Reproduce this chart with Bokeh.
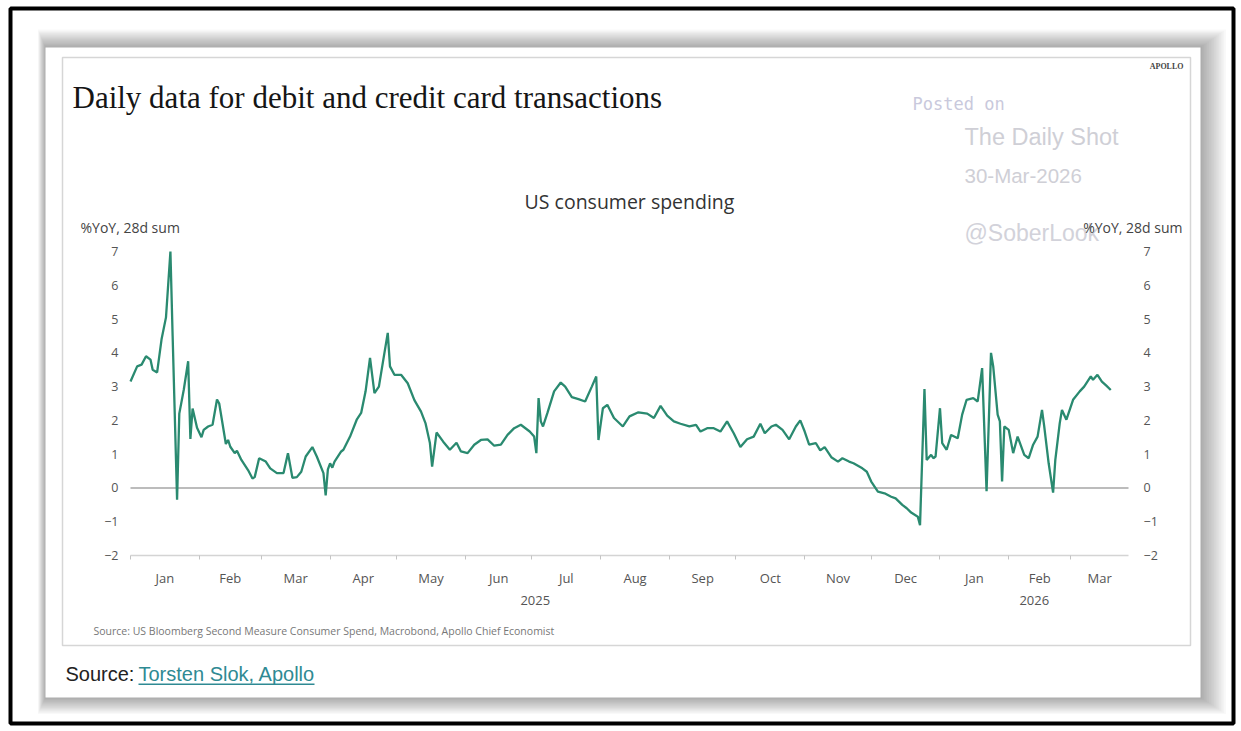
import pandas as pd
from bokeh.plotting import figure
from bokeh.models import (LinearAxis, DatetimeAxis, FixedTicker, DatetimeTickFormatter,
                          Label, BoxAnnotation, Range1d)
from bokeh.embed import file_html
from bokeh.resources import INLINE

# ---------------- data ----------------
START = "2025-01-01"
DAY_OFFSET = [0, 3, 5, 7, 9, 10, 12, 14, 16, 18, 19, 21, 22, 24, 26, 27, 28, 30, 32, 33,
              35, 37, 39, 40, 41, 43, 44, 45, 47, 48, 50, 53, 55, 56, 58, 61, 63, 66, 69, 71,
              73, 75, 77, 79, 82, 84, 87, 88, 89, 90, 91, 92, 95, 96, 99, 102, 104, 106, 108, 110,
              112, 114, 116, 117, 119, 122, 125, 128, 131, 133, 135, 136, 138, 141, 144, 147, 149, 152, 155, 158,
              161, 164, 167, 170, 173, 176, 180, 182, 183, 184, 185, 186, 188, 191, 194, 196, 199, 202, 205, 208,
              210, 211, 213, 215, 218, 222, 225, 229, 233, 236, 239, 242, 245, 248, 252, 255, 257, 260, 263, 266,
              269, 272, 275, 278, 281, 284, 286, 289, 291, 294, 297, 300, 302, 304, 306, 309, 311, 313, 316, 319,
              321, 324, 326, 330, 332, 334, 337, 340, 343, 345, 348, 350, 352, 355, 356, 358, 359, 361, 362, 363,
              365, 366, 368, 370, 373, 375, 377, 380, 382, 384, 386, 388, 389, 391, 392, 393, 394, 396, 398, 400,
              403, 405, 407, 409, 411, 412, 414, 416, 417, 419, 420, 422, 425, 428, 430, 433, 434, 436, 438, 440,
              442]
YOY = [3.15, 3.6, 3.65, 3.9, 3.8, 3.5, 3.42, 4.4, 5.05, 7.0, 4.5, -0.35, 2.2, 2.9, 3.75, 1.45, 2.35, 1.78, 1.5, 1.72,
       1.82, 1.87, 2.62, 2.5, 2.1, 1.3, 1.42, 1.22, 1.03, 1.1, 0.83, 0.53, 0.28, 0.32, 0.88, 0.78, 0.58, 0.44, 0.44, 1.03,
       0.3, 0.32, 0.48, 0.93, 1.21, 0.93, 0.44, -0.22, 0.55, 0.73, 0.6, 0.78, 1.08, 1.13, 1.52, 2.02, 2.22, 2.86, 3.85, 2.81,
       3.0, 3.8, 4.59, 3.6, 3.35, 3.35, 3.1, 2.6, 2.26, 1.92, 1.33, 0.63, 1.64, 1.37, 1.13, 1.34, 1.08, 1.03, 1.28, 1.42,
       1.44, 1.25, 1.28, 1.57, 1.77, 1.87, 1.67, 1.52, 1.03, 2.66, 1.97, 1.82, 2.22, 2.86, 3.12, 3.0, 2.69, 2.63, 2.56, 3.0,
       3.3, 1.42, 2.36, 2.46, 2.07, 1.82, 2.12, 2.24, 2.2, 2.07, 2.43, 2.14, 1.97, 1.9, 1.82, 1.87, 1.67, 1.77, 1.77, 1.67,
       1.97, 1.62, 1.21, 1.44, 1.52, 1.9, 1.62, 1.82, 1.87, 1.72, 1.44, 1.82, 2.0, 1.67, 1.28, 1.33, 1.11, 1.21, 0.91, 0.78,
       0.88, 0.78, 0.73, 0.58, 0.48, 0.19, -0.11, -0.16, -0.26, -0.31, -0.5, -0.6, -0.73, -0.85, -1.1, 2.93, 0.83, 0.98, 0.88, 0.93,
       2.36, 1.33, 1.13, 1.57, 1.47, 2.17, 2.61, 2.66, 2.56, 3.55, -0.1, 4.0, 3.6, 2.17, 1.97, 0.19, 1.82, 1.72, 1.03, 1.52,
       0.98, 0.88, 1.28, 1.52, 2.31, 1.82, 0.73, -0.14, 0.83, 1.92, 2.31, 2.02, 2.61, 2.86, 3.0, 3.3, 3.2, 3.35, 3.15, 3.03,
       2.9]
X_END = "2026-03-27"
MONTH_LABELS = ["Jan", "Feb", "Mar", "Apr", "May", "Jun", "Jul", "Aug", "Sep", "Oct", "Nov", "Dec",
                "Jan", "Feb", "Mar"]
YEAR_LABELS = ["2025", "2026"]
Y_TICKS = [-2, -1, 0, 1, 2, 3, 4, 5, 6, 7]
Y_MIN, Y_MAX = -2, 7

TITLE = "Daily data for debit and credit card transactions"
SUBTITLE = "US consumer spending"
UNIT = "%YoY, 28d sum"
SRC_SMALL = "Source: US Bloomberg Second Measure Consumer Spend, Macrobond, Apollo Chief Economist"

# ---------------- layout ----------------
W, H = 1241, 731
PL, PR = 130, 1128          # pixel columns of the chart's first / last day
PY_TOP, PY_BOT = 251, 555   # pixel rows of Y_MAX / Y_MIN

t_a = pd.Timestamp(START).value / 1e6
t_b = pd.Timestamp(X_END).value / 1e6
ms_per_px = (t_b - t_a) / (PR - PL)
u_per_px = (Y_MAX - Y_MIN) / (PY_BOT - PY_TOP)

dates = pd.Timestamp(START) + pd.to_timedelta(DAY_OFFSET, unit="D")

# page canvas in pixel coordinates (y downwards); chart data on extra ranges
p = figure(width=W, height=H, x_axis_type=None, y_axis_type=None,
           x_range=Range1d(0, W), y_range=Range1d(H, 0),
           output_backend="svg", toolbar_location=None, min_border=0)
p.extra_x_ranges = {"t": Range1d(t_a - PL * ms_per_px, t_a + (W - PL) * ms_per_px)}
p.extra_y_ranges = {"v": Range1d(Y_MIN - (H - PY_BOT) * u_per_px, Y_MAX + PY_TOP * u_per_px)}
p.outline_line_color = None
p.grid.visible = False
p.background_fill_color = "white"
p.border_fill_color = "white"


def box(x1, y1, x2, y2, fill=None, alpha=1.0, line=None, lw=1, level="underlay"):
    p.add_layout(BoxAnnotation(left=x1, right=x2, top=y1, bottom=y2,
                               fill_color=fill if fill else "white", fill_alpha=alpha if fill else 0,
                               line_color=line if line else "white", line_width=lw,
                               line_alpha=1 if line else 0, level=level))


def lab(text, x, y, size, color, font="Open Sans", align="left", style="normal"):
    p.add_layout(Label(x=x, y=y, text=text, text_font=font, text_font_size=f"{size}px",
                       text_color=color, text_align=align, text_baseline="middle",
                       text_font_style=style))


# shadow + card
for i in range(15, 0, -1):
    box(45 - i * 0.5, 47 - i * 1.2, 1200 + i * 1.7, 697 + i * 1.1, fill="#000000", alpha=0.022)
box(45, 47, 1200, 697, fill="white")
box(62, 57, 1190, 645, line="#d6d6d6", lw=1.5)

# zero line across the chart span
p.segment(x0=[t_a], x1=[t_b], y0=[0], y1=[0], line_color="#bcbcbc", line_width=2,
          x_range_name="t", y_range_name="v")

# series
p.line(dates, YOY, line_color="#2a8a70", line_width=2.3, x_range_name="t", y_range_name="v")

# axes
ax_font = "Open Sans"
for side, loc, sto in (("left", t_a, 6), ("right", t_b, 9)):
    ax = LinearAxis(ticker=FixedTicker(ticks=Y_TICKS), x_range_name="t", y_range_name="v",
                    fixed_location=loc, bounds=(Y_MIN, Y_MAX))
    ax.axis_line_color = None
    ax.major_tick_line_color = None
    ax.minor_tick_line_color = None
    ax.major_label_standoff = sto
    ax.major_label_text_font = ax_font
    ax.major_label_text_font_size = "12.5px"
    ax.major_label_text_color = "#555555"
    p.add_layout(ax, side)

month_starts = pd.date_range(START, "2026-03-01", freq="MS")
bounds = list(month_starts) + [pd.Timestamp(X_END)]
mids = [bounds[i] + (bounds[i + 1] - bounds[i]) / 2 for i in range(len(month_starts))]
mid_ms = [float(t.value // 10**6) for t in mids]
start_ms = [float(t.value // 10**6) for t in month_starts]

fmt = DatetimeTickFormatter(milliseconds="%b", seconds="%b", minsec="%b", minutes="%b", hourmin="%b",
                            hours="%b", days="%b", months="%b", years="%b", context=None)
xax = DatetimeAxis(ticker=FixedTicker(ticks=mid_ms, minor_ticks=start_ms), formatter=fmt,
                   x_range_name="t", y_range_name="v", fixed_location=Y_MIN, bounds=(t_a, t_b))
xax.major_label_overrides = {m: l for m, l in zip(mid_ms, MONTH_LABELS)}
xax.axis_line_color = "#d4d4d4"
xax.axis_line_width = 1.5
xax.major_tick_line_color = None
xax.minor_tick_line_color = "#c4c4c4"
xax.minor_tick_out = 4
xax.minor_tick_in = 0
xax.major_tick_out = 0
xax.major_label_standoff = 9
xax.major_label_text_font = ax_font
xax.major_label_text_font_size = "13px"
xax.major_label_text_color = "#555555"
p.add_layout(xax, "below")

year_bounds = [pd.Timestamp(START), pd.Timestamp("2026-01-01"), pd.Timestamp(X_END)]
year_mid = [float((year_bounds[i] + (year_bounds[i + 1] - year_bounds[i]) / 2).value // 10**6) for i in range(2)]
yfmt = DatetimeTickFormatter(milliseconds="%Y", seconds="%Y", minsec="%Y", minutes="%Y", hourmin="%Y",
                             hours="%Y", days="%Y", months="%Y", years="%Y", context=None)
yax = DatetimeAxis(ticker=FixedTicker(ticks=year_mid, minor_ticks=[]), formatter=yfmt,
                   x_range_name="t", y_range_name="v", fixed_location=Y_MIN, bounds=(t_a, t_b))
yax.major_label_overrides = {m: l for m, l in zip(year_mid, YEAR_LABELS)}
yax.axis_line_color = None
yax.major_tick_line_color = None
yax.minor_tick_line_color = None
yax.major_tick_out = 0
yax.major_label_standoff = 40
yax.major_label_text_font = ax_font
yax.major_label_text_font_size = "13px"
yax.major_label_text_color = "#555555"
p.add_layout(yax, "below")

# texts (y = vertical centre of the text)
lab(TITLE, 72, 97, 31, "#151515", font="Liberation Serif")
lab("APOLLO", 1183, 66, 8, "#444444", font="Liberation Serif", align="right", style="bold")
lab("Posted on", 912, 103, 17, "#c9c9dc", font="DejaVu Sans Mono")
lab("The Daily Shot", 964, 136, 23.5, "#cfcfd6", font="Liberation Sans")
lab("30-Mar-2026", 964, 175, 20.5, "#cfcfd6", font="Liberation Sans")
lab("@SoberLook", 964, 232, 23, "#d2d2da", font="Liberation Sans")
lab(SUBTITLE, 629, 201, 19.5, "#333333", align="center")
lab(UNIT, 80, 227, 14, "#444444")
lab(UNIT, 1182, 227, 14, "#444444", align="right")
lab(SRC_SMALL, 93, 630, 10.5, "#777777")
lab("Source:", 65, 673, 20, "#222222", font="Liberation Sans")
lab("Torsten Slok, Apollo", 138, 673, 20, "#2f8a93", font="Liberation Sans")
box(138, 683, 314, 684.5, fill="#2f8a93", level="annotation")

# outer black frame
box(10, 8, 1233, 723, line="#000000", lw=4, level="annotation")

open("out.html", "w").write(file_html(p, INLINE))
